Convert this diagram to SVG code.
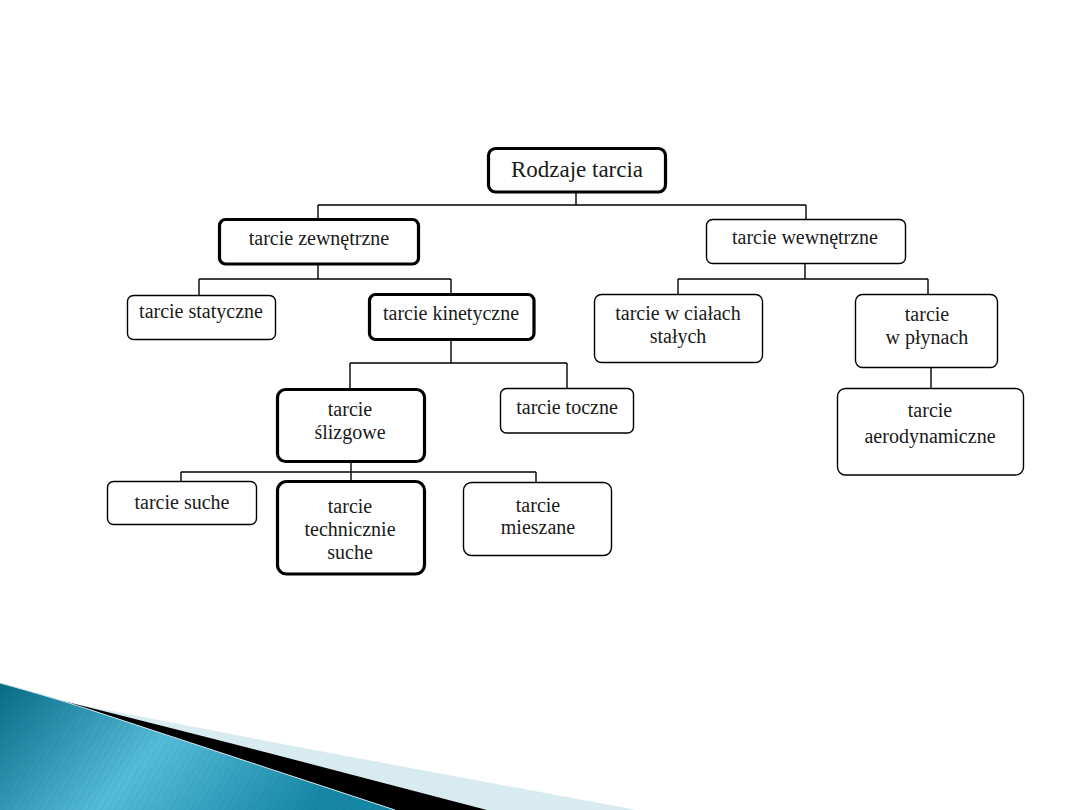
<svg xmlns="http://www.w3.org/2000/svg" width="1080" height="810" viewBox="0 0 1080 810">
<defs>
<style>
.box{fill:#fff;stroke:#000;stroke-width:1.4}
.thick{stroke-width:3.2}
.t{font-family:"Liberation Serif","Times New Roman",serif;font-size:20px;fill:#1a1a1a;text-anchor:middle}
.root{font-size:23px}
.conn{fill:none;stroke:#000;stroke-width:1.4}
</style>
<linearGradient id="blueGrad" x1="0" y1="0" x2="1" y2="0.3">
<stop offset="0" stop-color="#076b86"/>
<stop offset="0.5" stop-color="#55bcd8"/>
<stop offset="1" stop-color="#1586a4"/>
</linearGradient>
<pattern id="stripes" width="6" height="6" patternUnits="userSpaceOnUse" patternTransform="rotate(30)">
<line x1="0" y1="0" x2="0" y2="6" stroke="#035a72" stroke-width="1" stroke-opacity="0.18"/>
</pattern>
</defs>
<rect width="1080" height="810" fill="#fff"/>
<g id="swoosh">
<path d="M70,703 Q200,728 330,753 L637,810 L487,810 L330,769 Q200,736 62,701 Z" fill="#d8ebf1"/>
<path d="M55,699 Q200,735 330,769 L487,810 L395,810 L100,713 Z" fill="#000"/>
<path d="M0,683 C40,694 70,703 100,713 L395,810 L0,810 Z" fill="url(#blueGrad)"/>
<path d="M0,683 C40,694 70,703 100,713 L395,810 L0,810 Z" fill="url(#stripes)"/>
<path d="M0,683 C40,694 70,703 100,713 L395,810" fill="none" stroke="#bfe3ee" stroke-width="1"/>
</g>
<g id="connectors">
<path class="conn" d="M576,193 V205 M318,205 H806 M318,205 V218 M806,205 V219"/>
<path class="conn" d="M318,265 V279 M199,279 H451 M199,279 V295 M451,279 V293"/>
<path class="conn" d="M805,264 V279 M678,279 H928 M678,279 V294 M928,279 V294"/>
<path class="conn" d="M451,340 V363 M350,363 H567 M350,363 V388 M567,363 V388"/>
<path class="conn" d="M931,368 V388"/>
<path class="conn" d="M351,462 V472 M181,472 H536 M181,472 V481 M351,472 V480 M536,472 V482"/>
</g>
<g id="n-root">
<rect class="box thick" x="488.5" y="148.5" width="177" height="43.5" rx="7"/>
<text class="t root" x="577" y="177">Rodzaje tarcia</text>
</g>
<g id="n-zewnetrzne">
<rect class="box thick" x="219.5" y="219.5" width="199" height="44.5" rx="6"/>
<text class="t" x="319" y="245">tarcie zewnętrzne</text>
</g>
<g id="n-wewnetrzne">
<rect class="box" x="706.5" y="219.5" width="199" height="44" rx="6"/>
<text class="t" x="805" y="244">tarcie wewnętrzne</text>
</g>
<g id="n-statyczne">
<rect class="box" x="127.5" y="295.5" width="148" height="44" rx="6"/>
<text class="t" x="201" y="318">tarcie statyczne</text>
</g>
<g id="n-kinetyczne">
<rect class="box thick" x="369.5" y="294.5" width="164.5" height="45" rx="6"/>
<text class="t" x="451" y="320">tarcie kinetyczne</text>
</g>
<g id="n-cialach">
<rect class="box" x="594.5" y="294.5" width="168" height="68" rx="7"/>
<text class="t" x="678" y="320">tarcie w ciałach</text>
<text class="t" x="678" y="343">stałych</text>
</g>
<g id="n-plynach">
<rect class="box" x="855.5" y="294.5" width="142" height="73" rx="7"/>
<text class="t" x="927" y="321">tarcie</text>
<text class="t" x="927" y="344">w płynach</text>
</g>
<g id="n-aerodynamiczne">
<rect class="box" x="837.5" y="388.5" width="186" height="86.5" rx="8"/>
<text class="t" x="930" y="417">tarcie</text>
<text class="t" x="930" y="443">aerodynamiczne</text>
</g>
<g id="n-slizgowe">
<rect class="box thick" x="277.5" y="389.5" width="147" height="72" rx="8"/>
<text class="t" x="350" y="416">tarcie</text>
<text class="t" x="350" y="439">ślizgowe</text>
</g>
<g id="n-toczne">
<rect class="box" x="500.5" y="388.5" width="133" height="44.5" rx="6"/>
<text class="t" x="567" y="414">tarcie toczne</text>
</g>
<g id="n-suche">
<rect class="box" x="107.5" y="481.5" width="149" height="43" rx="6"/>
<text class="t" x="182" y="509">tarcie suche</text>
</g>
<g id="n-technicznie">
<rect class="box thick" x="277.5" y="481.5" width="147" height="92.5" rx="9"/>
<text class="t" x="350" y="513">tarcie</text>
<text class="t" x="350" y="536">technicznie</text>
<text class="t" x="350" y="559">suche</text>
</g>
<g id="n-mieszane">
<rect class="box" x="463.5" y="482.5" width="148" height="73" rx="8"/>
<text class="t" x="538" y="512">tarcie</text>
<text class="t" x="538" y="534">mieszane</text>
</g>
</svg>
